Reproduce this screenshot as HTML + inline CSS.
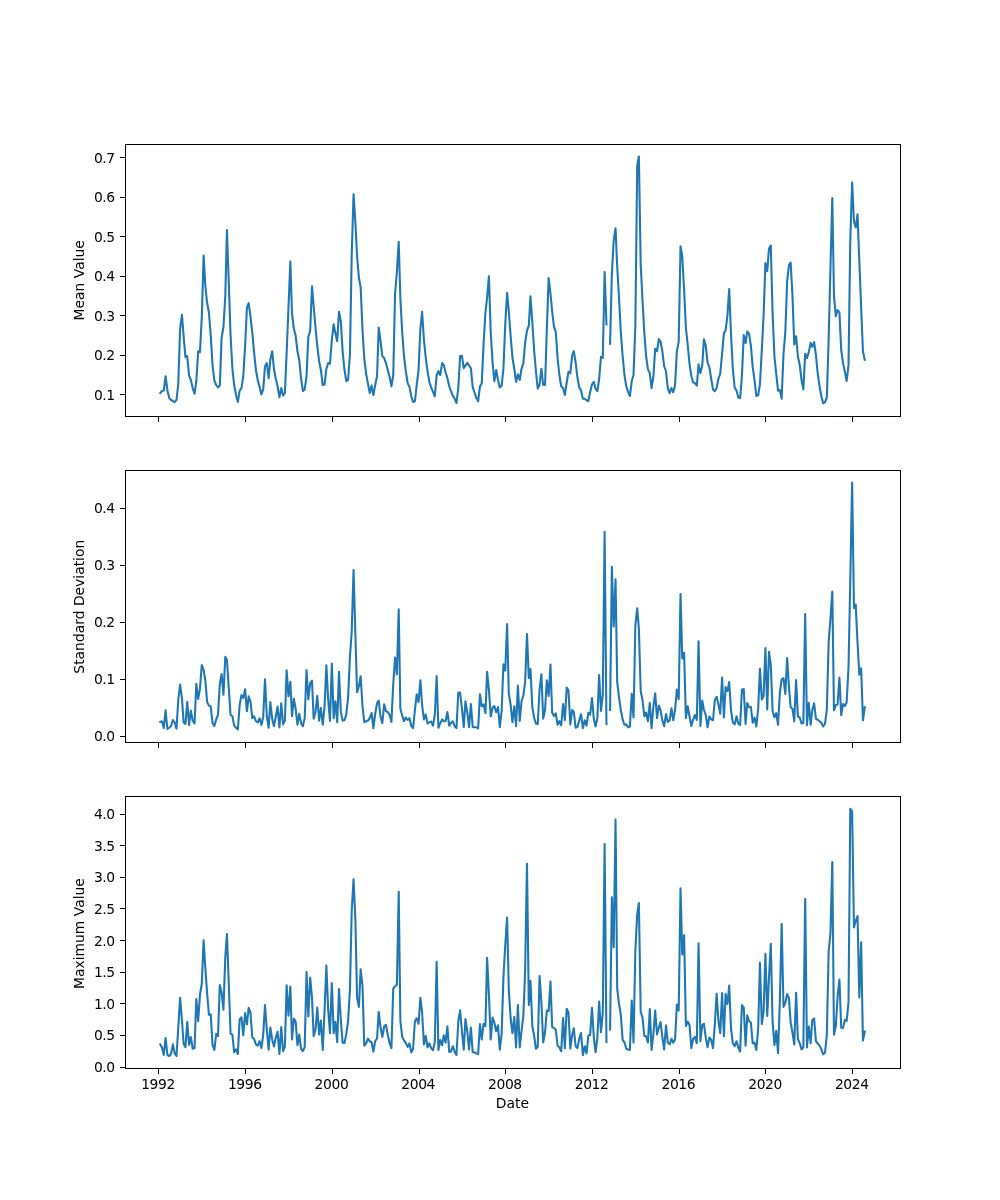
<!DOCTYPE html>
<html lang="en"><head><meta charset="utf-8"><title>Monthly statistics</title>
<style>html,body{margin:0;padding:0;background:#fff}body{width:1000px;height:1200px;overflow:hidden}svg{display:block;will-change:transform}text{font-family:"DejaVu Sans","Liberation Sans",sans-serif;font-size:13.889px;fill:#000}.tl{letter-spacing:-0.4px}.sp{fill:none;stroke:#000;stroke-width:1;shape-rendering:crispEdges}.tk{stroke:#000;stroke-width:1;fill:none;shape-rendering:crispEdges}.ln{fill:none;stroke:#1f77b4;stroke-width:2.083;stroke-linejoin:round;stroke-linecap:square}</style></head><body>
<svg width="1000" height="1200" viewBox="0 0 1000 1200">
<rect x="0" y="0" width="1000" height="1200" fill="#ffffff"/>
<g>
<path class="ln" d="M160.23 393.10 L161.95 391.00 L163.79 390.60 L165.57 376.20 L167.41 390.25 L169.19 398.10 L171.03 400.00 L172.87 401.00 L174.65 402.10 L176.49 400.00 L178.27 383.75 L180.11 328.75 L181.95 314.80 L183.61 336.25 L185.45 357.10 L187.23 356.00 L189.07 375.60 L190.85 380.00 L192.69 388.10 L194.53 393.75 L196.31 381.25 L198.15 351.25 L199.94 352.10 L201.78 317.50 L203.62 255.60 L205.28 285.00 L207.12 303.00 L208.90 312.50 L210.74 335.00 L212.52 365.00 L214.36 380.60 L216.20 385.00 L217.98 387.50 L219.82 385.60 L221.60 338.00 L223.44 327.00 L225.28 296.25 L226.94 230.00 L228.78 283.00 L230.56 335.00 L232.40 368.75 L234.18 385.00 L236.02 395.00 L237.86 401.90 L239.64 390.60 L241.48 388.10 L243.26 376.25 L245.10 346.25 L246.94 307.50 L248.67 303.20 L250.51 316.90 L252.29 332.50 L254.13 352.50 L255.91 370.00 L257.75 380.00 L259.59 386.90 L261.37 394.40 L263.21 389.40 L264.99 366.25 L266.83 363.10 L268.67 378.10 L270.33 359.40 L272.17 351.20 L273.95 368.75 L275.79 378.75 L277.57 386.25 L279.41 397.25 L281.25 388.10 L283.03 395.60 L284.87 393.10 L286.65 352.50 L288.49 307.50 L290.33 261.60 L292.00 313.75 L293.84 328.75 L295.62 335.60 L297.46 351.25 L299.24 360.00 L301.08 378.75 L302.92 391.00 L304.70 389.40 L306.54 376.25 L308.32 336.90 L310.16 331.25 L312.00 286.20 L313.66 306.25 L315.50 327.50 L317.28 346.25 L319.12 361.25 L320.90 370.00 L322.74 385.00 L324.58 384.40 L326.36 368.75 L328.20 363.10 L329.98 363.75 L331.82 340.00 L333.66 324.35 L335.38 333.10 L337.22 341.25 L339.00 311.85 L340.84 321.25 L342.63 351.25 L344.47 370.00 L346.31 381.00 L348.09 380.00 L349.93 355.00 L351.71 255.00 L353.55 194.35 L355.39 222.50 L357.05 256.00 L358.89 277.50 L360.67 287.50 L362.51 330.00 L364.29 358.75 L366.13 373.75 L367.97 383.75 L369.75 393.10 L371.59 385.60 L373.37 395.00 L375.21 385.00 L377.05 376.25 L378.71 327.50 L380.55 341.25 L382.33 356.25 L384.17 358.10 L385.95 363.10 L387.79 370.00 L389.63 376.90 L391.42 386.25 L393.26 375.00 L395.04 294.00 L396.88 272.00 L398.72 241.85 L400.38 298.75 L402.22 332.50 L404.00 356.25 L405.84 371.25 L407.62 383.10 L409.46 386.90 L411.30 396.25 L413.08 401.90 L414.92 401.25 L416.70 385.00 L418.54 370.00 L420.38 328.75 L422.10 311.85 L423.94 340.00 L425.72 357.50 L427.56 371.25 L429.34 381.90 L431.18 387.50 L433.02 391.90 L434.80 396.25 L436.64 375.00 L438.42 371.20 L440.26 375.00 L442.10 363.10 L443.77 365.00 L445.61 372.50 L447.39 378.10 L449.23 386.25 L451.01 391.25 L452.85 395.60 L454.69 398.75 L456.47 403.10 L458.31 387.50 L460.09 356.00 L461.93 355.75 L463.77 368.10 L465.43 365.60 L467.27 362.75 L469.05 365.60 L470.89 368.10 L472.67 386.90 L474.51 392.50 L476.35 398.10 L478.13 401.25 L479.97 386.25 L481.75 383.50 L483.59 343.75 L485.43 312.50 L487.10 297.50 L488.94 276.20 L490.72 332.50 L492.56 362.50 L494.34 381.25 L496.18 370.00 L498.02 380.00 L499.80 387.50 L501.64 385.60 L503.42 368.75 L505.26 323.75 L507.10 293.10 L508.82 311.25 L510.66 336.25 L512.44 357.50 L514.28 368.75 L516.06 381.90 L517.90 374.35 L519.74 380.00 L521.52 368.75 L523.36 363.10 L525.14 342.50 L526.98 330.60 L528.82 325.60 L530.48 296.20 L532.32 322.50 L534.10 350.00 L535.94 371.25 L537.73 388.75 L539.57 384.40 L541.41 368.70 L543.19 385.00 L545.03 385.00 L546.81 330.00 L548.65 278.10 L550.49 293.75 L552.15 311.25 L553.99 326.90 L555.77 331.90 L557.61 358.75 L559.39 375.00 L561.23 386.25 L563.07 388.10 L564.85 395.00 L566.69 382.50 L568.47 371.90 L570.31 373.10 L572.15 355.60 L573.81 351.20 L575.65 362.50 L577.43 377.50 L579.27 387.50 L581.05 390.60 L582.89 398.75 L584.73 398.75 L586.52 400.25 L588.36 401.00 L590.14 391.90 L591.98 384.40 L593.82 381.90 L595.54 388.75 L597.38 391.25 L599.16 378.75 L601.00 356.90 L602.78 357.90 L604.62 272.00 L606.46 324.40 M610.08 343.75 L611.86 274.00 L613.70 240.25 L615.54 228.35 L617.20 266.50 L619.04 298.00 L620.82 332.50 L622.66 356.25 L624.44 375.00 L626.28 386.25 L628.12 391.90 L629.90 396.00 L631.74 381.25 L633.52 375.00 L635.36 325.00 L637.20 165.90 L638.87 156.50 L640.71 265.00 L642.49 300.00 L644.33 333.00 L646.11 356.25 L647.95 369.40 L649.79 373.10 L651.57 388.10 L653.41 376.25 L655.19 348.70 L657.03 351.25 L658.87 339.10 L660.53 341.50 L662.37 351.25 L664.15 366.25 L665.99 371.25 L667.77 388.10 L669.61 393.10 L671.45 388.10 L673.23 392.25 L675.07 385.00 L676.85 351.25 L678.69 341.90 L680.53 246.20 L682.26 256.25 L684.10 290.00 L685.88 327.50 L687.72 345.00 L689.50 363.75 L691.34 376.25 L693.18 382.50 L694.96 383.10 L696.80 385.60 L698.58 364.35 L700.42 373.10 L702.26 365.60 L703.92 339.35 L705.76 345.60 L707.54 362.50 L709.38 367.50 L711.16 378.75 L713.00 389.40 L714.84 391.25 L716.62 388.10 L718.46 378.75 L720.24 373.75 L722.08 353.75 L723.92 333.10 L725.58 330.60 L727.42 315.60 L729.20 289.00 L731.04 335.00 L732.83 368.75 L734.67 387.50 L736.51 390.60 L738.29 397.50 L740.13 398.10 L741.91 376.25 L743.75 335.00 L745.59 343.10 L747.25 331.50 L749.09 333.75 L750.87 345.60 L752.71 366.90 L754.49 380.00 L756.33 396.00 L758.17 395.00 L759.95 384.40 L761.79 350.00 L763.57 316.25 L765.41 263.10 L767.25 271.25 L768.97 248.75 L770.81 245.60 L772.59 313.75 L774.43 356.25 L776.21 373.75 L778.05 390.60 L779.89 390.00 L781.67 398.75 L783.51 353.75 L785.30 332.50 L787.14 281.25 L788.98 265.00 L790.64 262.50 L792.48 296.00 L794.26 344.40 L796.10 336.20 L797.88 356.25 L799.72 365.00 L801.56 380.00 L803.34 389.40 L805.18 353.70 L806.96 358.10 L808.80 351.90 L810.64 342.85 L812.30 346.90 L814.14 342.20 L815.92 355.00 L817.76 373.75 L819.54 386.25 L821.38 396.25 L823.22 403.50 L825.00 402.25 L826.84 397.50 L828.62 340.00 L830.46 268.00 L832.30 198.10 L833.97 295.50 L835.81 316.25 L837.59 310.00 L839.43 312.50 L841.21 350.00 L843.05 363.10 L844.89 371.90 L846.67 381.00 L848.51 365.00 L850.29 240.00 L852.13 182.50 L853.97 221.25 L855.69 227.50 L857.53 214.35 L859.31 260.60 L861.15 307.50 L862.93 351.25 L864.77 359.75"/>
<rect class="sp" x="125.5" y="144.5" width="775" height="272"/>
<path class="tk" d="M120 394.5H125M120 355.5H125M120 315.5H125M120 276.5H125M120 236.5H125M120 197.5H125M120 157.5H125M158.5 417V422M245.5 417V422M332.5 417V422M419.5 417V422M505.5 417V422M592.5 417V422M679.5 417V422M765.5 417V422M852.5 417V422"/>
<text class="tl" x="114.8" y="399.78" text-anchor="end">0.1</text>
<text class="tl" x="114.8" y="359.78" text-anchor="end">0.2</text>
<text class="tl" x="114.8" y="320.78" text-anchor="end">0.3</text>
<text class="tl" x="114.8" y="280.78" text-anchor="end">0.4</text>
<text class="tl" x="114.8" y="241.78" text-anchor="end">0.5</text>
<text class="tl" x="114.8" y="201.78" text-anchor="end">0.6</text>
<text class="tl" x="114.8" y="162.78" text-anchor="end">0.7</text>
<text transform="translate(83.75 280.3) rotate(-90)" text-anchor="middle">Mean Value</text>
</g>
<g>
<path class="ln" d="M160.23 721.90 L161.95 721.25 L163.79 728.10 L165.57 710.35 L167.41 729.00 L169.19 727.75 L171.03 726.00 L172.87 720.00 L174.65 722.50 L176.49 728.75 L178.27 700.00 L180.11 684.60 L181.95 698.10 L183.61 722.50 L185.45 724.00 L187.23 701.85 L189.07 725.00 L190.85 710.60 L192.69 720.60 L194.53 723.50 L196.31 683.70 L198.15 699.00 L199.94 688.75 L201.78 665.00 L203.62 670.00 L205.28 680.00 L207.12 701.90 L208.90 705.60 L210.74 706.50 L212.52 723.10 L214.36 726.00 L216.20 719.40 L217.98 715.00 L219.82 683.75 L221.60 674.10 L223.44 694.75 L225.28 656.85 L226.94 660.00 L228.78 688.10 L230.56 715.00 L232.40 716.25 L234.18 725.60 L236.02 727.75 L237.86 729.40 L239.64 705.00 L241.48 695.00 L243.26 698.10 L245.10 689.35 L246.94 711.25 L248.67 696.20 L250.51 701.90 L252.29 718.10 L254.13 716.25 L255.91 721.25 L257.75 722.50 L259.59 718.35 L261.37 725.00 L263.21 716.90 L264.99 679.35 L266.83 716.25 L268.67 727.75 L270.33 702.10 L272.17 718.75 L273.95 726.25 L275.79 716.60 L277.57 706.60 L279.41 727.50 L281.25 703.35 L283.03 724.40 L284.87 720.60 L286.65 670.35 L288.49 696.25 L290.33 681.85 L292.00 716.25 L293.84 698.70 L295.62 708.75 L297.46 724.75 L299.24 713.70 L301.08 723.10 L302.92 726.25 L304.70 718.10 L306.54 670.00 L308.32 699.40 L310.16 683.10 L312.00 680.60 L313.66 718.75 L315.50 711.90 L317.28 695.85 L319.12 720.60 L320.90 708.10 L322.74 724.75 L324.58 706.25 L326.36 665.20 L328.20 700.00 L329.98 721.00 L331.82 663.60 L333.66 718.10 L335.38 701.20 L337.22 722.25 L339.00 671.85 L340.84 711.90 L342.63 720.60 L344.47 720.25 L346.31 714.40 L348.09 697.50 L349.93 657.00 L351.71 632.00 L353.55 570.00 L355.39 634.00 L357.05 692.25 L358.89 686.25 L360.67 676.20 L362.51 706.25 L364.29 722.25 L366.13 721.25 L367.97 720.60 L369.75 718.10 L371.59 713.10 L373.37 728.10 L375.21 713.75 L377.05 703.10 L378.71 700.60 L380.55 716.90 L382.33 723.10 L384.17 704.35 L385.95 711.25 L387.79 711.90 L389.63 715.00 L391.42 721.90 L393.26 683.75 L395.04 657.50 L396.88 674.40 L398.72 609.35 L400.38 708.75 L402.22 715.60 L404.00 721.25 L405.84 717.50 L407.62 720.00 L409.46 718.10 L411.30 726.00 L413.08 728.10 L414.92 710.00 L416.70 694.35 L418.54 702.25 L420.38 680.35 L422.10 705.00 L423.94 719.40 L425.72 714.60 L427.56 723.50 L429.34 722.25 L431.18 721.50 L433.02 725.60 L434.80 715.00 L436.64 676.00 L438.42 727.75 L440.26 723.10 L442.10 719.40 L443.77 721.25 L445.61 721.00 L447.39 712.10 L449.23 725.60 L451.01 723.10 L452.85 721.25 L454.69 726.25 L456.47 728.10 L458.31 692.50 L460.09 692.50 L461.93 708.75 L463.77 726.90 L465.43 701.20 L467.27 712.50 L469.05 727.25 L470.89 704.10 L472.67 726.90 L474.51 727.25 L476.35 727.25 L478.13 728.50 L479.97 694.35 L481.75 706.25 L483.59 704.40 L485.43 713.10 L487.10 671.85 L488.94 690.00 L490.72 716.50 L492.56 707.75 L494.34 706.00 L496.18 712.25 L498.02 707.10 L499.80 727.25 L501.64 711.25 L503.42 664.35 L505.26 670.60 L507.10 624.00 L508.82 693.75 L510.66 705.00 L512.44 722.25 L514.28 706.20 L516.06 726.25 L517.90 685.60 L519.74 721.00 L521.52 701.25 L523.36 695.60 L525.14 681.90 L526.98 634.00 L528.82 678.10 L530.48 669.10 L532.32 707.50 L534.10 717.50 L535.94 723.75 L537.73 724.00 L539.57 689.40 L541.41 674.35 L543.19 718.75 L545.03 710.00 L546.81 680.20 L548.65 696.00 L550.49 664.60 L552.15 712.50 L553.99 716.00 L555.77 713.35 L557.61 724.75 L559.39 721.20 L561.23 725.25 L563.07 704.10 L564.85 720.25 L566.69 687.50 L568.47 690.25 L570.31 724.40 L572.15 710.00 L573.81 711.90 L575.65 727.75 L577.43 726.90 L579.27 720.60 L581.05 714.35 L582.89 728.10 L584.73 720.35 L586.52 725.60 L588.36 712.75 L590.14 714.75 L591.98 698.10 L593.82 718.75 L595.54 726.50 L597.38 718.10 L599.16 675.00 L601.00 711.00 L602.78 694.40 L604.62 531.85 L606.46 724.00 M610.08 710.00 L611.86 566.85 L613.70 626.50 L615.54 579.35 L617.20 681.90 L619.04 697.50 L620.82 710.00 L622.66 719.40 L624.44 724.75 L626.28 724.40 L628.12 727.25 L629.90 726.50 L631.74 693.70 L633.52 717.50 L635.36 625.00 L637.20 608.20 L638.87 628.75 L640.71 691.25 L642.49 700.00 L644.33 716.25 L646.11 712.50 L647.95 721.25 L649.79 702.85 L651.57 728.10 L653.41 706.25 L655.19 693.35 L657.03 718.10 L658.87 705.60 L660.53 710.00 L662.37 720.60 L664.15 726.25 L665.99 714.10 L667.77 721.90 L669.61 720.60 L671.45 708.35 L673.23 720.25 L675.07 710.00 L676.85 689.60 L678.69 699.00 L680.53 594.10 L682.26 658.50 L684.10 652.85 L685.88 718.10 L687.72 706.20 L689.50 716.25 L691.34 726.00 L693.18 719.40 L694.96 715.00 L696.80 720.00 L698.58 641.20 L700.42 726.00 L702.26 700.60 L703.92 709.75 L705.76 715.00 L707.54 727.25 L709.38 716.50 L711.16 719.40 L713.00 720.25 L714.84 700.00 L716.62 696.85 L718.46 704.40 L720.24 713.75 L722.08 677.50 L723.92 717.50 L725.58 687.10 L727.42 691.00 L729.20 682.10 L731.04 710.60 L732.83 722.50 L734.67 724.40 L736.51 716.20 L738.29 723.75 L740.13 725.00 L741.91 689.75 L743.75 689.00 L745.59 724.00 L747.25 703.10 L749.09 707.25 L750.87 706.90 L752.71 722.75 L754.49 717.50 L756.33 726.50 L758.17 708.75 L759.95 668.70 L761.79 699.40 L763.57 696.25 L765.41 648.10 L767.25 709.40 L768.97 651.85 L770.81 665.00 L772.59 711.25 L774.43 717.25 L776.21 713.10 L778.05 724.75 L779.89 692.50 L781.67 679.40 L783.51 678.10 L785.30 694.00 L787.14 658.10 L788.98 687.50 L790.64 707.25 L792.48 708.75 L794.26 721.25 L796.10 680.00 L797.88 716.50 L799.72 717.50 L801.56 723.50 L803.34 723.10 L805.18 614.10 L806.96 725.25 L808.80 702.85 L810.64 724.75 L812.30 710.00 L814.14 703.35 L815.92 718.75 L817.76 719.75 L819.54 721.25 L821.38 723.10 L823.22 726.50 L825.00 723.75 L826.84 710.00 L828.62 642.50 L830.46 618.75 L832.30 591.60 L833.97 710.25 L835.81 705.00 L837.59 704.40 L839.43 677.50 L841.21 715.25 L843.05 704.00 L844.89 706.00 L846.67 702.25 L848.51 667.50 L850.29 580.00 L852.13 482.50 L853.97 608.10 L855.69 604.50 L857.53 642.50 L859.31 674.75 L861.15 668.35 L862.93 720.25 L864.77 707.25"/>
<rect class="sp" x="125.5" y="470.5" width="775" height="272"/>
<path class="tk" d="M120 736.5H125M120 679.5H125M120 622.5H125M120 565.5H125M120 508.5H125M158.5 743V748M245.5 743V748M332.5 743V748M419.5 743V748M505.5 743V748M592.5 743V748M679.5 743V748M765.5 743V748M852.5 743V748"/>
<text class="tl" x="114.8" y="740.78" text-anchor="end">0.0</text>
<text class="tl" x="114.8" y="683.78" text-anchor="end">0.1</text>
<text class="tl" x="114.8" y="626.78" text-anchor="end">0.2</text>
<text class="tl" x="114.8" y="569.78" text-anchor="end">0.3</text>
<text class="tl" x="114.8" y="512.78" text-anchor="end">0.4</text>
<text transform="translate(83.75 606.7) rotate(-90)" text-anchor="middle">Standard Deviation</text>
</g>
<g>
<path class="ln" d="M160.23 1044.40 L161.95 1047.50 L163.79 1055.00 L165.57 1038.10 L167.41 1055.00 L169.19 1056.00 L171.03 1054.00 L172.87 1044.35 L174.65 1053.10 L176.49 1056.00 L178.27 1027.50 L180.11 997.85 L181.95 1020.00 L183.61 1043.75 L185.45 1047.25 L187.23 1021.85 L189.07 1045.00 L190.85 1037.10 L192.69 1048.75 L194.53 1048.10 L196.31 999.10 L198.15 1021.25 L199.94 995.00 L201.78 983.75 L203.62 940.20 L205.28 967.50 L207.12 993.00 L208.90 1014.75 L210.74 1014.40 L212.52 1045.00 L214.36 1050.00 L216.20 1033.75 L217.98 1036.25 L219.82 985.00 L221.60 992.50 L223.44 1009.75 L225.28 957.50 L226.94 934.10 L228.78 983.75 L230.56 1033.75 L232.40 1034.75 L234.18 1052.25 L236.02 1049.40 L237.86 1054.00 L239.64 1019.40 L241.48 1017.25 L243.26 1035.25 L245.10 1013.10 L246.94 1024.40 L248.67 1007.85 L250.51 1012.50 L252.29 1037.25 L254.13 1039.00 L255.91 1044.40 L257.75 1045.60 L259.59 1041.20 L261.37 1048.10 L263.21 1035.00 L264.99 1005.00 L266.83 1030.00 L268.67 1049.75 L270.33 1027.50 L272.17 1039.40 L273.95 1046.50 L275.79 1037.50 L277.57 1031.85 L279.41 1054.00 L281.25 1027.10 L283.03 1051.25 L284.87 1046.90 L286.65 985.35 L288.49 1015.60 L290.33 986.60 L292.00 1039.40 L293.84 1018.50 L295.62 1021.25 L297.46 1045.25 L299.24 1034.60 L301.08 1048.75 L302.92 1051.00 L304.70 1046.90 L306.54 972.10 L308.32 1016.50 L310.16 977.50 L312.00 997.50 L313.66 1036.25 L315.50 1030.00 L317.28 1007.50 L319.12 1034.40 L320.90 1020.60 L322.74 1050.00 L324.58 1010.00 L326.36 965.60 L328.20 1010.00 L329.98 1033.10 L331.82 983.10 L333.66 1033.10 L335.38 1021.85 L337.22 1042.25 L339.00 989.10 L340.84 1020.00 L342.63 1042.75 L344.47 1043.10 L346.31 1033.75 L348.09 1021.25 L349.93 990.00 L351.71 911.25 L353.55 879.35 L355.39 920.00 L357.05 997.50 L358.89 1006.90 L360.67 969.35 L362.51 986.25 L364.29 1045.60 L366.13 1043.50 L367.97 1038.70 L369.75 1041.25 L371.59 1042.25 L373.37 1051.50 L375.21 1041.00 L377.05 1038.50 L378.71 1011.85 L380.55 1027.50 L382.33 1036.90 L384.17 1026.50 L385.95 1024.75 L387.79 1035.00 L389.63 1043.10 L391.42 1048.10 L393.26 988.50 L395.04 986.25 L396.88 984.75 L398.72 891.85 L400.38 1021.25 L402.22 1036.90 L404.00 1040.25 L405.84 1043.10 L407.62 1046.90 L409.46 1043.35 L411.30 1052.25 L413.08 1048.75 L414.92 1021.25 L416.70 1018.35 L418.54 1023.75 L420.38 997.85 L422.10 1012.50 L423.94 1044.40 L425.72 1035.85 L427.56 1047.25 L429.34 1043.35 L431.18 1048.10 L433.02 1050.25 L434.80 1041.90 L436.64 961.85 L438.42 1050.00 L440.26 1040.00 L442.10 1045.25 L443.77 1035.35 L445.61 1042.75 L447.39 1026.20 L449.23 1051.90 L451.01 1051.50 L452.85 1046.20 L454.69 1051.90 L456.47 1055.00 L458.31 1021.25 L460.09 1010.35 L461.93 1031.25 L463.77 1049.75 L465.43 1019.10 L467.27 1031.25 L469.05 1049.40 L470.89 1027.50 L472.67 1051.90 L474.51 1052.50 L476.35 1053.40 L478.13 1054.10 L479.97 1024.10 L481.75 1039.40 L483.59 1023.75 L485.43 1026.00 L487.10 957.85 L488.94 995.00 L490.72 1039.40 L492.56 1017.50 L494.34 1022.50 L496.18 1031.25 L498.02 1025.35 L499.80 1049.75 L501.64 1033.75 L503.42 977.50 L505.26 945.00 L507.10 917.50 L508.82 990.00 L510.66 1018.75 L512.44 1033.10 L514.28 1016.85 L516.06 1047.50 L517.90 1005.00 L519.74 1047.50 L521.52 1031.25 L523.36 1015.60 L525.14 971.25 L526.98 863.70 L528.82 1005.00 L530.48 980.85 L532.32 1026.00 L534.10 1035.60 L535.94 1048.75 L537.73 1046.90 L539.57 976.00 L541.41 1002.50 L543.19 1042.50 L545.03 1032.50 L546.81 1010.60 L548.65 1011.00 L550.49 981.50 L552.15 1026.90 L553.99 1028.10 L555.77 1029.75 L557.61 1046.00 L559.39 1047.25 L561.23 1051.25 L563.07 1018.10 L564.85 1048.10 L566.69 1008.70 L568.47 1012.50 L570.31 1048.50 L572.15 1035.00 L573.81 1028.35 L575.65 1046.25 L577.43 1048.10 L579.27 1038.75 L581.05 1033.10 L582.89 1055.25 L584.73 1046.20 L586.52 1053.50 L588.36 1035.60 L590.14 1035.00 L591.98 1007.85 L593.82 1037.50 L595.54 1052.25 L597.38 1037.50 L599.16 1001.60 L601.00 1032.25 L602.78 1012.50 L604.62 844.10 L606.46 1041.90 M610.08 1029.40 L611.86 897.20 L613.70 947.25 L615.54 819.50 L617.20 988.75 L619.04 1003.75 L620.82 1015.00 L622.66 1040.00 L624.44 1042.25 L626.28 1048.75 L628.12 1049.40 L629.90 1050.00 L631.74 1000.60 L633.52 1042.50 L635.36 950.00 L637.20 914.50 L638.87 903.00 L640.71 1012.00 L642.49 1017.50 L644.33 1036.00 L646.11 1036.25 L647.95 1042.50 L649.79 1009.10 L651.57 1050.00 L653.41 1033.75 L655.19 1010.60 L657.03 1034.40 L658.87 1027.50 L660.53 1022.10 L662.37 1037.50 L664.15 1049.40 L665.99 1025.35 L667.77 1042.50 L669.61 1044.40 L671.45 1038.70 L673.23 1042.75 L675.07 1039.40 L676.85 1004.60 L678.69 1010.60 L680.53 888.35 L682.26 954.40 L684.10 935.00 L685.88 1026.00 L687.72 1021.60 L689.50 1025.00 L691.34 1048.10 L693.18 1038.75 L694.96 1036.90 L696.80 1043.10 L698.58 943.35 L700.42 1041.25 L702.26 1025.00 L703.92 1023.75 L705.76 1037.50 L707.54 1047.25 L709.38 1037.50 L711.16 1039.75 L713.00 1048.10 L714.84 1023.75 L716.62 993.70 L718.46 1021.25 L720.24 1033.10 L722.08 993.10 L723.92 1036.25 L725.58 993.70 L727.42 1004.00 L729.20 985.60 L731.04 1028.75 L732.83 1043.10 L734.67 1046.25 L736.51 1041.20 L738.29 1047.50 L740.13 1051.50 L741.91 1005.00 L743.75 1007.50 L745.59 1045.60 L747.25 1015.35 L749.09 1021.25 L750.87 1022.50 L752.71 1043.50 L754.49 1042.50 L756.33 1050.00 L758.17 1028.75 L759.95 962.70 L761.79 1024.00 L763.57 1011.90 L765.41 953.70 L767.25 1015.90 L768.97 977.50 L770.81 943.85 L772.59 1021.90 L774.43 1045.00 L776.21 1030.85 L778.05 1053.10 L779.89 1000.00 L781.67 924.10 L783.51 1006.90 L785.30 1003.10 L787.14 994.10 L788.98 998.10 L790.64 1022.50 L792.48 1032.50 L794.26 1044.40 L796.10 992.85 L797.88 1039.00 L799.72 1043.10 L801.56 1049.40 L803.34 1047.25 L805.18 898.85 L806.96 1047.50 L808.80 1026.60 L810.64 1043.10 L812.30 1020.00 L814.14 1018.50 L815.92 1041.25 L817.76 1043.50 L819.54 1045.60 L821.38 1049.40 L823.22 1054.40 L825.00 1052.50 L826.84 1034.75 L828.62 951.90 L830.46 933.25 L832.30 862.00 L833.97 1034.75 L835.81 1026.00 L837.59 996.90 L839.43 979.60 L841.21 1027.75 L843.05 1028.10 L844.89 1019.75 L846.67 1021.00 L848.51 1001.90 L850.29 808.70 L852.13 811.25 L853.97 927.40 L855.69 921.00 L857.53 916.00 L859.31 997.50 L861.15 942.35 L862.93 1040.60 L864.77 1031.50"/>
<rect class="sp" x="125.5" y="796.5" width="775" height="272"/>
<path class="tk" d="M120 1067.5H125M120 1035.5H125M120 1003.5H125M120 972.5H125M120 940.5H125M120 908.5H125M120 877.5H125M120 845.5H125M120 814.5H125M158.5 1069V1074M245.5 1069V1074M332.5 1069V1074M419.5 1069V1074M505.5 1069V1074M592.5 1069V1074M679.5 1069V1074M765.5 1069V1074M852.5 1069V1074"/>
<text class="tl" x="114.8" y="1071.78" text-anchor="end">0.0</text>
<text class="tl" x="114.8" y="1039.78" text-anchor="end">0.5</text>
<text class="tl" x="114.8" y="1008.78" text-anchor="end">1.0</text>
<text class="tl" x="114.8" y="976.78" text-anchor="end">1.5</text>
<text class="tl" x="114.8" y="945.78" text-anchor="end">2.0</text>
<text class="tl" x="114.8" y="913.78" text-anchor="end">2.5</text>
<text class="tl" x="114.8" y="881.78" text-anchor="end">3.0</text>
<text class="tl" x="114.8" y="850.78" text-anchor="end">3.5</text>
<text class="tl" x="114.8" y="818.78" text-anchor="end">4.0</text>
<text transform="translate(83.75 933.6) rotate(-90)" text-anchor="middle">Maximum Value</text>
</g>
<text class="tl" x="158.05" y="1089.28" text-anchor="middle">1992</text>
<text class="tl" x="244.77" y="1089.28" text-anchor="middle">1996</text>
<text class="tl" x="331.48" y="1089.28" text-anchor="middle">2000</text>
<text class="tl" x="418.20" y="1089.28" text-anchor="middle">2004</text>
<text class="tl" x="504.92" y="1089.28" text-anchor="middle">2008</text>
<text class="tl" x="591.64" y="1089.28" text-anchor="middle">2012</text>
<text class="tl" x="678.35" y="1089.28" text-anchor="middle">2016</text>
<text class="tl" x="765.07" y="1089.28" text-anchor="middle">2020</text>
<text class="tl" x="851.79" y="1089.28" text-anchor="middle">2024</text>
<text x="512.4" y="1108.27" text-anchor="middle">Date</text>
</svg></body></html>
